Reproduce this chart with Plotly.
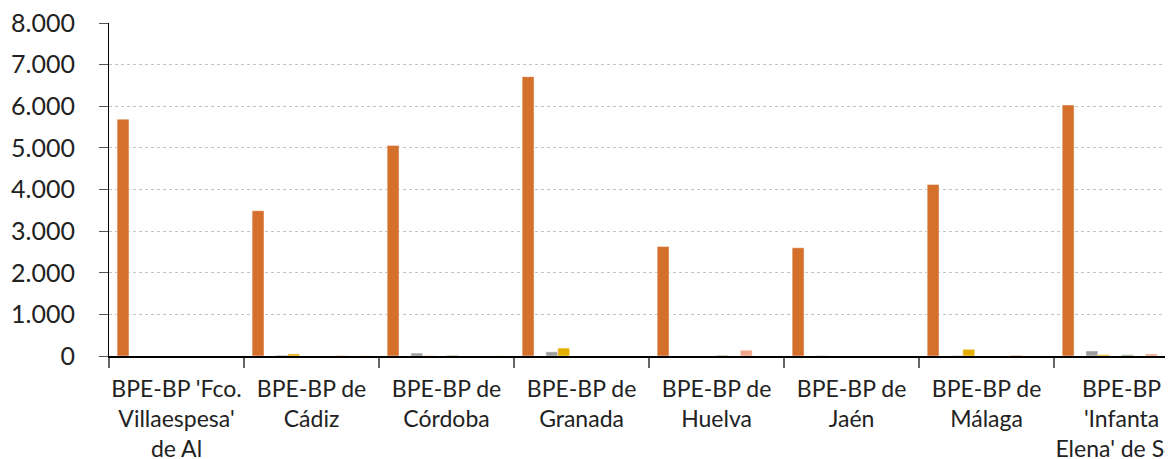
import plotly.graph_objects as go

categories = [
    "BPE-BP 'Fco.<br>Villaespesa'<br>de Al",
    "BPE-BP de<br>Cádiz",
    "BPE-BP de<br>Córdoba",
    "BPE-BP de<br>Granada",
    "BPE-BP de<br>Huelva",
    "BPE-BP de<br>Jaén",
    "BPE-BP de<br>Málaga",
    "BPE-BP<br>'Infanta<br>Elena' de Sev",
]

series_names = [f"Serie {i+1}" for i in range(10)]
series_colors = ["#D4702C", "#4F81BD", "#9E9E9E", "#E5AF00", "#5B9BD5",
                 "#8FB07A", "#264478", "#F2A68A", "#C9C9C9", "#FFDC8C"]

s1 = [5690, 3490, 5060, 6710, 2630, 2600, 4120, 6030]
s2 = [0, 0, 0, 0, 0, 0, 0, 0]
s3 = [0, 20, 70, 100, 0, 10, 10, 120]
s4 = [0, 50, 10, 190, 0, 0, 160, 30]
s5 = [0, 0, 0, 0, 0, 0, 0, 0]
s6 = [0, 0, 20, 0, 20, 0, 0, 30]
s7 = [0, 0, 0, 0, 0, 0, 0, 0]
s8 = [0, 15, 0, 0, 140, 0, 20, 50]
s9 = [0, 0, 0, 0, 0, 0, 0, 0]
s10 = [0, 15, 10, 0, 0, 0, 10, 70]
series_values = [s1, s2, s3, s4, s5, s6, s7, s8, s9, s10]

y_ticks = [0, 1000, 2000, 3000, 4000, 5000, 6000, 7000, 8000]

fig = go.Figure()
for name, color, vals in zip(series_names, series_colors, series_values):
    fig.add_trace(go.Bar(
        x=list(range(len(categories))), y=vals, name=name,
        marker=dict(color=color, line=dict(color="rgba(255,255,255,0.45)", width=1)),
    ))

# the page body has an 8px margin, so the figure is offset by 8px
fig.update_layout(
    width=1173, height=459,
    margin=dict(l=101, r=0, t=15, b=111),
    barmode="group", bargap=0.12, bargroupgap=0,
    showlegend=False,
    plot_bgcolor="white", paper_bgcolor="white",
    separators=",.",
    font=dict(family="Lato, sans-serif", color="#222222"),
)
fig.update_xaxes(
    type="linear", automargin=False,
    tickmode="array", tickvals=list(range(len(categories))), ticktext=categories,
    range=[-0.5, 7.44],
    showline=True, linecolor="black", linewidth=1.5,
    ticks="", showgrid=False, zeroline=False,
    ticklabeloverflow="allow",
    ticklabelstandoff=12,
    tickfont=dict(size=23, family="Lato, sans-serif", color="#222222"),
)
fig.update_xaxes(
    minor=dict(tickmode="array", tickvals=[i - 0.5 for i in range(len(categories))],
               ticks="outside", ticklen=10, tickcolor="#666666", tickwidth=1.5, showgrid=False),
)
fig.update_yaxes(
    range=[0, 8000], tickvals=y_ticks, tickformat=",d", automargin=False,
    showline=True, linecolor="black", linewidth=1,
    ticks="outside", ticklen=9, tickcolor="#555555",
    showgrid=True, gridcolor="#c4c4c4", griddash="dot", gridwidth=1,
    zeroline=False,
    ticklabeloverflow="allow",
    ticklabelstandoff=19,
    tickfont=dict(size=25, family="Lato, sans-serif", color="#222222"),
)

fig.write_html("out.html")
